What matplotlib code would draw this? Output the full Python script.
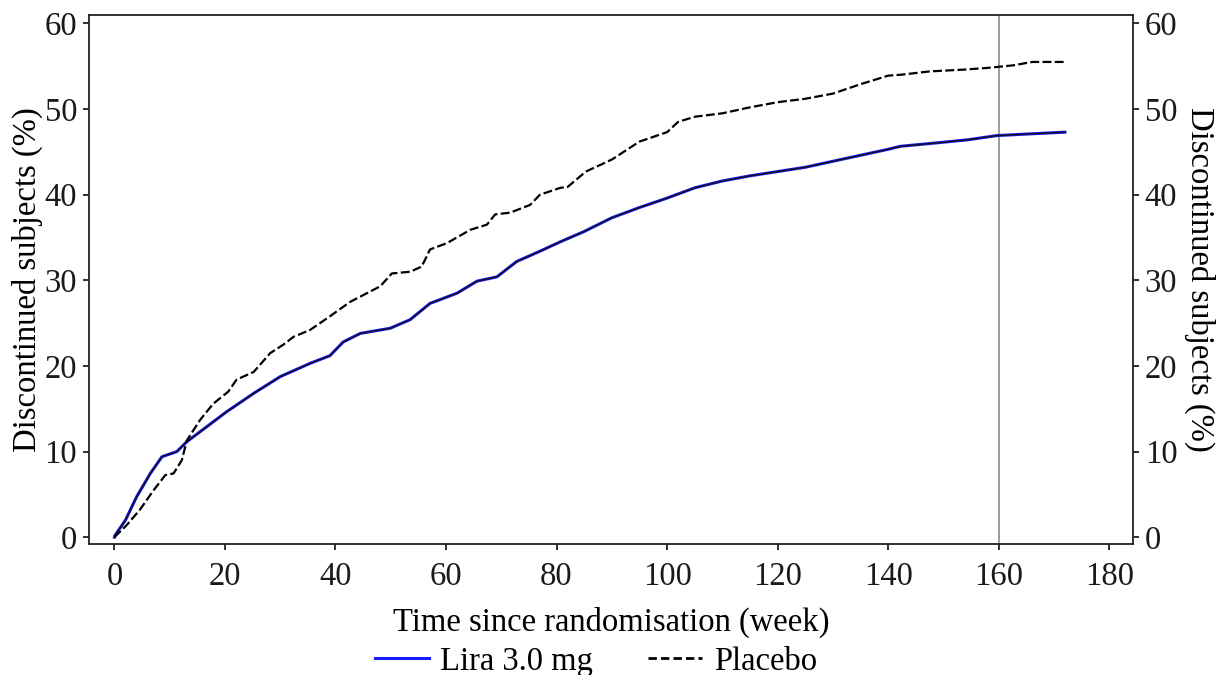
import matplotlib.pyplot as plt
from matplotlib.lines import Line2D

plt.rcParams['font.family'] = ['Liberation Serif', 'DejaVu Serif']

# cumulative discontinuation (%) by week since randomisation
lira_weeks = [0, 0.1, 2.0, 4.0, 6.5, 8.6, 11.3, 13.1, 16.7, 20.3, 25.2, 30.0, 35.4,
              39.0, 41.4, 44.5, 49.9, 53.5, 57.1, 62.0, 65.6, 69.2, 72.8, 77.0,
              80.7, 85.0, 90.0, 95.0, 100.0, 105.0, 110.0, 115.0, 120.0, 125.0,
              130.0, 135.0, 140.0, 142.2, 148.0, 154.3, 159.7, 165.7, 172.0]
lira_pct = [0, 0.2, 2.0, 4.7, 7.45, 9.4, 10.0, 11.15, 12.9, 14.65, 16.8, 18.75, 20.3,
            21.2, 22.8, 23.8, 24.4, 25.4, 27.3, 28.5, 29.9, 30.4, 32.2, 33.4,
            34.5, 35.7, 37.3, 38.5, 39.6, 40.8, 41.6, 42.2, 42.7, 43.2,
            43.9, 44.6, 45.3, 45.65, 46.0, 46.4, 46.9, 47.1, 47.3]

placebo_weeks = [0, 2.2, 4.6, 7.1, 9.2, 10.7, 12.2, 13.1, 15.5, 17.9, 20.6, 22.1,
                 25.2, 28.2, 30.6, 32.4, 35.4, 39.0, 42.7, 45.1, 48.1, 50.2, 53.5,
                 55.6, 57.1, 60.2, 64.4, 67.4, 68.9, 71.6, 75.2, 77.0, 80.7, 82.0,
                 85.3, 88.0, 90.0, 95.0, 100.0, 102.0, 105.0, 110.0, 115.0, 120.0,
                 125.0, 130.0, 135.0, 140.0, 142.2, 147.6, 153.6, 157.9, 162.6,
                 165.2, 166.1, 172.0]
placebo_pct = [0, 1.4, 3.2, 5.5, 7.25, 7.45, 9.0, 11.3, 13.7, 15.6, 17.0, 18.4,
               19.3, 21.5, 22.5, 23.4, 24.2, 25.8, 27.5, 28.3, 29.3, 30.8, 31.0,
               31.6, 33.6, 34.35, 35.9, 36.5, 37.7, 37.9, 38.8, 40.0, 40.8, 40.9,
               42.7, 43.5, 44.1, 46.2, 47.3, 48.5, 49.1, 49.5, 50.2, 50.8,
               51.2, 51.8, 52.9, 53.9, 54.0, 54.4, 54.6, 54.8, 55.1,
               55.4, 55.5, 55.5]

cutoff_week = 160
FS = 23.5

fig = plt.figure(figsize=(12.16, 6.75), dpi=100)
ax = fig.add_axes([0.0732, 0.194, 0.8585, 0.784])

ax.axvline(cutoff_week, color='#8c8c8c', lw=1.2, zorder=1)
ax.plot(lira_weeks, lira_pct, color='#1a1aff', lw=2.2, zorder=2)
ax.plot(lira_weeks, lira_pct, color='#111111', lw=1.0, zorder=3)
ax.plot(placebo_weeks, placebo_pct, color='black', lw=1.6,
        linestyle=(0, (4, 1.5)), zorder=4)

ax.set_xlim(-4.6, 184.3)
ax.set_ylim(-0.8, 61.0)
ax.set_xticks(range(0, 181, 20))
ax.set_yticks(range(0, 61, 10))

for side in ['left', 'right', 'top', 'bottom']:
    ax.spines[side].set_linewidth(1.3)
    ax.spines[side].set_color('#222222')

ax.tick_params(axis='both', direction='out', length=4.5, width=1.3,
               labelsize=FS, pad=4, colors='#222222', labelcolor='#1a1a1a')
ax.tick_params(axis='x', pad=8)

ax.set_xlabel('Time since randomisation (week)', fontsize=FS, labelpad=11)
ax.set_ylabel('Discontinued subjects (%)', fontsize=FS, labelpad=1)

ax2 = ax.twinx()
ax2.set_ylim(ax.get_ylim())
ax2.set_yticks(range(0, 61, 10))
ax2.tick_params(axis='y', direction='out', length=4.5, width=1.3,
                labelsize=FS, pad=4, colors='#222222', labelcolor='#1a1a1a')
ax2.set_ylabel('Discontinued subjects (%)', fontsize=FS, rotation=270,
               labelpad=27)
for side in ['left', 'right', 'top', 'bottom']:
    ax2.spines[side].set_visible(False)

handles = [Line2D([], [], color='#1a1aff', lw=2.2),
           Line2D([], [], color='black', lw=2.0, linestyle=(0, (3, 1.5)))]
fig.legend(handles, ['Lira 3.0 mg', 'Placebo'], loc='lower center',
           bbox_to_anchor=(0.49, -0.046), ncol=2, frameon=False, fontsize=FS,
           handlelength=1.65, handletextpad=0.35, columnspacing=1.7)

fig.savefig('out.png', dpi=100)
